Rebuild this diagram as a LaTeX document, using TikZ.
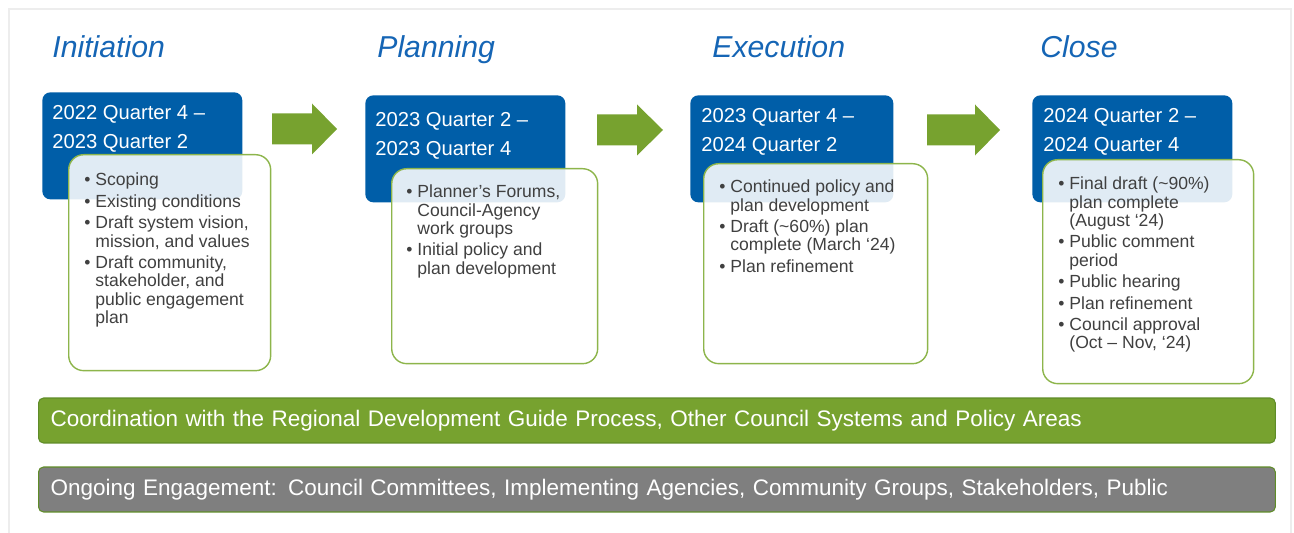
\documentclass[tikz,border=0pt]{standalone}
\usepackage{fontspec}
\setmainfont{Liberation Sans}
\usepackage{xcolor}
\usepackage{tikz}
\definecolor{phaseblue}{HTML}{005EA8}
\definecolor{titleblue}{HTML}{1565B5}
\definecolor{arrowgreen}{HTML}{77A22F}
\definecolor{boxgreen}{HTML}{8DB54B}
\definecolor{bargreen}{HTML}{77A22F}
\definecolor{barline}{HTML}{5F8C28}
\definecolor{bargray}{HTML}{7F7F7F}
\definecolor{textgray}{HTML}{404040}
\definecolor{framegray}{HTML}{EDEDED}
\newcommand{\tk}{\textbullet}

\begin{document}
\begin{tikzpicture}[x=0.02cm, y=-0.02cm,
  every node/.style={inner sep=0pt},
  phasetitle/.style={anchor=base west, text=titleblue, font=\fontsize{17.2}{20}\selectfont\itshape},
  datebox/.style={anchor=north west, fill=phaseblue, rounded corners=0.16cm, minimum width=4cm, minimum height=2.14cm},
  datetext/.style={anchor=base west, text=white, font=\fontsize{11.5}{16.5}\selectfont},
  taskbox/.style={anchor=north west, draw=boxgreen, line width=0.8pt, fill=white, fill opacity=0.88, rounded corners=0.3cm},
  tasktext/.style={anchor=base west, text=textgray, font=\fontsize{10}{10.4}\selectfont},
  stagearrow/.style={fill=arrowgreen},
  bandbar/.style={anchor=west, draw=barline, line width=0.6pt, rounded corners=0.1cm, minimum width=24.74cm, minimum height=0.9cm, text width=24.26cm, inner xsep=0.24cm, align=left, text=white, font=\fontsize{12.8}{15}\selectfont}]
  \useasboundingbox (0,0) rectangle (1294,533);
  \draw[framegray, line width=1.1pt] (9,533) -- (9,9) -- (1291,9) -- (1291,533);

  \node[phasetitle] (initiation) at (52,58) {Initiation};
  \node[phasetitle] (planning) at (377,58) {Planning};
  \node[phasetitle] (execution) at (712,58) {Execution};
  \node[phasetitle] (close) at (1040,58) {Close};

  \node[datebox] (d1) at (42,92) {};
  \node[datebox] (d2) at (365,95) {};
  \node[datebox, minimum width=4.06cm] (d3) at (690,95) {};
  \node[datebox] (d4) at (1032,95) {};

  \node[taskbox, minimum width=4.04cm, minimum height=4.32cm] (b1) at (68,154) {};
  \node[taskbox, minimum width=4.12cm, minimum height=3.9cm] (b2) at (391,168) {};
  \node[taskbox, minimum width=4.48cm, minimum height=4cm] (b3) at (703,163) {};
  \node[taskbox, minimum width=4.22cm, minimum height=4.48cm] (b4) at (1042,159) {};

  \node[datetext] (q1) at (52,120) {\begin{tabular}[t]{@{}l@{}}2022 Quarter 4 –\\2023 Quarter 2\end{tabular}};
  \node[datetext] (q2) at (375,127) {\begin{tabular}[t]{@{}l@{}}2023 Quarter 2 –\\2023 Quarter 4\end{tabular}};
  \node[datetext] (q3) at (701,123) {\begin{tabular}[t]{@{}l@{}}2023 Quarter 4 –\\2024 Quarter 2\end{tabular}};
  \node[datetext] (q4) at (1043,123) {\begin{tabular}[t]{@{}l@{}}2024 Quarter 2 –\\2024 Quarter 4\end{tabular}};

  \node[tasktext] (t1) at (84,186) {\begin{tabular}[t]{@{}l@{\hspace{2.8pt}}l@{}}
    \tk & Scoping\\[1.8pt]
    \tk & Existing conditions\\[1.8pt]
    \tk & Draft system vision,\\
        & mission, and values\\[1.8pt]
    \tk & Draft community,\\
        & stakeholder, and\\
        & public engagement\\
        & plan
  \end{tabular}};
  \node[tasktext] (t2) at (406,198) {\begin{tabular}[t]{@{}l@{\hspace{2.8pt}}l@{}}
    \tk & Planner’s Forums,\\
        & Council-Agency\\
        & work groups\\[1.8pt]
    \tk & Initial policy and\\
        & plan development
  \end{tabular}};
  \node[tasktext] (t3) at (719,193) {\begin{tabular}[t]{@{}l@{\hspace{2.8pt}}l@{}}
    \tk & Continued policy and\\
        & plan development\\[1.8pt]
    \tk & Draft (\textasciitilde60\%) plan\\
        & complete (March ‘24)\\[1.8pt]
    \tk & Plan refinement
  \end{tabular}};
  \node[tasktext] (t4) at (1058,190) {\begin{tabular}[t]{@{}l@{\hspace{2.8pt}}l@{}}
    \tk & Final draft (\textasciitilde90\%)\\
        & plan complete\\
        & (August ‘24)\\[1.8pt]
    \tk & Public comment\\
        & period\\[1.8pt]
    \tk & Public hearing\\[1.8pt]
    \tk & Plan refinement\\[1.8pt]
    \tk & Council approval\\
        & (Oct – Nov, ‘24)
  \end{tabular}};

  \foreach \xa/\xb/\xc/\yc in {272/312/337/129, 597/637/663/130, 927/975/1000/130}
    \fill[stagearrow] (\xa,\yc-15.5) -- (\xb,\yc-15.5) -- (\xb,\yc-25.5) -- (\xc,\yc)
      -- (\xb,\yc+25.5) -- (\xb,\yc+15.5) -- (\xa,\yc+15.5) -- cycle;

  \node[bandbar, fill=bargreen] (coord) at (38,420.5) {Coordination with the Regional Development Guide Process, Other Council Systems and Policy Areas};
  \node[bandbar, fill=bargray] (engage) at (38,489.5) {Ongoing Engagement: Council Committees, Implementing Agencies, Community Groups, Stakeholders, Public};
\end{tikzpicture}
\end{document}
